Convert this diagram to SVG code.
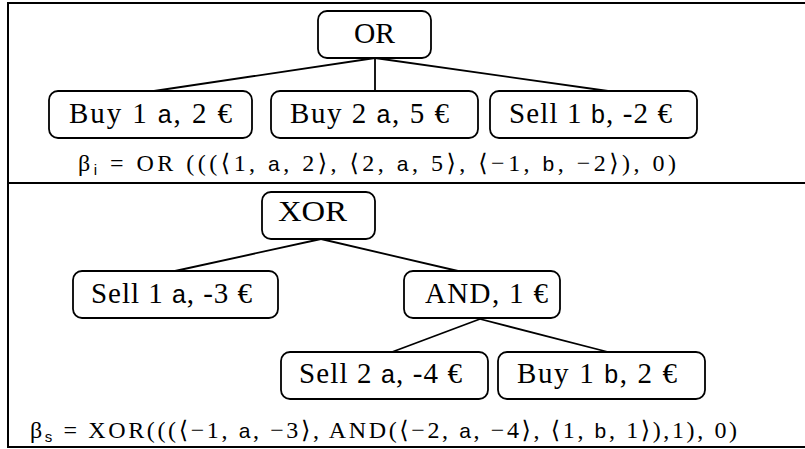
<svg xmlns="http://www.w3.org/2000/svg" width="805" height="449" viewBox="0 0 805 449">
<style>
.frame{stroke:#000;stroke-width:2;fill:none}
.box{fill:#fff;stroke:#000;stroke-width:1.8}
.edge{stroke:#000;stroke-width:1.8;fill:none}
.lbl{font-family:"Liberation Serif","DejaVu Serif",serif;font-size:29px;fill:#000;text-anchor:middle}
.sf{font-family:"Liberation Sans","DejaVu Sans",sans-serif;font-size:25px}
.fml{font-family:"Liberation Serif","DejaVu Serif",serif;font-size:24px;fill:#000;white-space:pre}
.fsf{font-family:"Liberation Sans","DejaVu Sans",sans-serif;font-size:21px}
.sub{font-family:"Liberation Sans","DejaVu Sans",sans-serif;font-size:15px}
</style>
<rect width="805" height="449" fill="#fff"/>
<g id="frame">
<line class="frame" x1="8" y1="3" x2="805" y2="3"/>
<line class="frame" x1="8" y1="2" x2="8" y2="448"/>
<line class="frame" x1="8" y1="183" x2="805" y2="183"/>
<line class="frame" x1="8" y1="447" x2="805" y2="447"/>
</g>
<g id="connectors">
<line class="edge" x1="375" y1="58" x2="154" y2="91"/>
<line class="edge" x1="375" y1="58" x2="375" y2="91"/>
<line class="edge" x1="375" y1="58" x2="608" y2="91"/>
<line class="edge" x1="321" y1="239" x2="175" y2="271"/>
<line class="edge" x1="321" y1="239" x2="458" y2="271"/>
<line class="edge" x1="480" y1="319" x2="392" y2="352"/>
<line class="edge" x1="480" y1="319" x2="608" y2="352"/>
</g>
<g id="n-or">
<rect class="box" x="318" y="11" width="113" height="47" rx="9"/>
<text class="lbl" x="374.5" y="43" textLength="41" lengthAdjust="spacingAndGlyphs">OR</text>
</g>
<g id="n-buy1a">
<rect class="box" x="49" y="91" width="203" height="47" rx="9"/>
<text class="lbl" x="150.5" y="123" textLength="163">Buy 1 <tspan class="sf">a</tspan>, 2 €</text>
</g>
<g id="n-buy2a">
<rect class="box" x="271" y="91" width="207" height="47" rx="9"/>
<text class="lbl" x="369.5" y="123" textLength="159">Buy 2 <tspan class="sf">a</tspan>, 5 €</text>
</g>
<g id="n-sell1b">
<rect class="box" x="490" y="91" width="207" height="47" rx="9"/>
<text class="lbl" x="590.5" y="123" textLength="163">Sell 1 <tspan class="sf">b</tspan>, -2 €</text>
</g>
<g id="n-xor">
<rect class="box" x="262" y="192" width="113" height="47" rx="9"/>
<text class="lbl" x="312.5" y="221" textLength="69" lengthAdjust="spacingAndGlyphs">XOR</text>
</g>
<g id="n-sell1a">
<rect class="box" x="73" y="271" width="205" height="47" rx="9"/>
<text class="lbl" x="171.5" y="303" textLength="161">Sell 1 <tspan class="sf">a</tspan>, -3 €</text>
</g>
<g id="n-and">
<rect class="box" x="404" y="271" width="156" height="47" rx="9"/>
<text class="lbl" x="486.5" y="303" textLength="123">AND, 1 €</text>
</g>
<g id="n-sell2a">
<rect class="box" x="281" y="352" width="207" height="47" rx="9"/>
<text class="lbl" x="380.5" y="383" textLength="163">Sell 2 <tspan class="sf">a</tspan>, -4 €</text>
</g>
<g id="n-buy1b">
<rect class="box" x="498" y="352" width="207" height="47" rx="9"/>
<text class="lbl" x="597" y="383" textLength="160">Buy 1 <tspan class="sf">b</tspan>, 2 €</text>
</g>
<g id="formula-i">
<text class="fml" x="78" y="171" textLength="598">β<tspan class="sub" dy="4">i</tspan><tspan dy="-4"> = OR (((⟨1, </tspan><tspan class="fsf">a</tspan>, 2⟩, ⟨2, <tspan class="fsf">a</tspan>, 5⟩, ⟨−1, <tspan class="fsf">b</tspan>, −2⟩), 0)</text>
</g>
<g id="formula-s">
<text class="fml" x="30" y="438" textLength="707">β<tspan class="sub" dy="4">s</tspan><tspan dy="-4"> = XOR(((⟨−1, </tspan><tspan class="fsf">a</tspan>, −3⟩, AND(⟨−2, <tspan class="fsf">a</tspan>, −4⟩, ⟨1, <tspan class="fsf">b</tspan>, 1⟩),1), 0)</text>
</g>
</svg>
